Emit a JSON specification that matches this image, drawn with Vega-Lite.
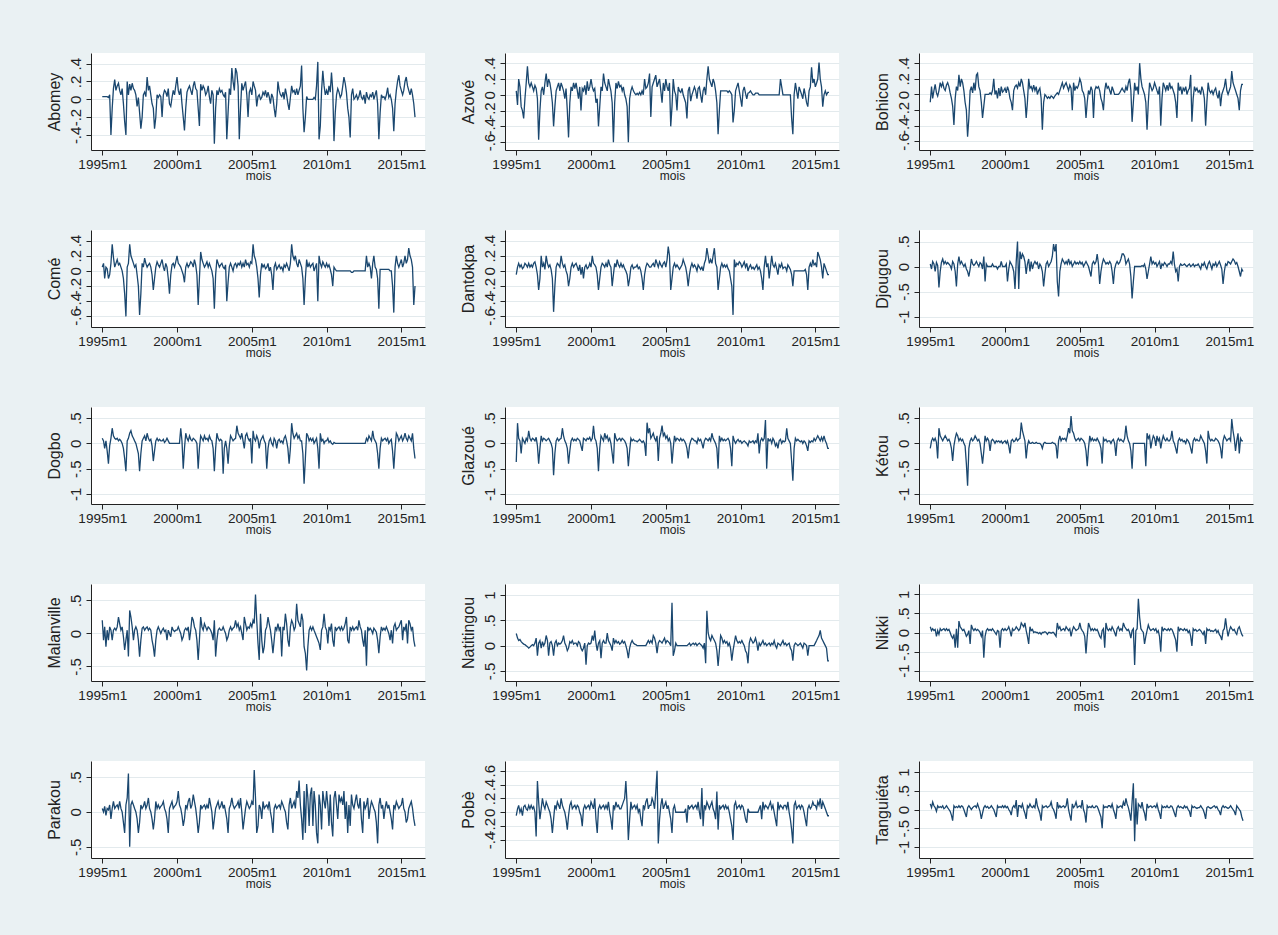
{
"$schema":"https://vega.github.io/schema/vega-lite/v6.json",
"background":"#EAF1F3",
"padding":{"left":46,"top":53,"right":24,"bottom":47},
"data":{"format":{"parse":{"t":"utc:'%Y-%m'"}},"values":[
{"t":"1995-01","ab":0.03,"az":0.05,"bo":-0.10,"co":0.05,"da":-0.05,"dj":0.05,"dg":0.10,"gl":-0.37,"ke":-0.10,"ma":0.20,"na":0.24,"ni":0.15,"pa":0.05,"po":-0.05,"ta":0.15},
{"t":"1995-02","ab":0.03,"az":-0.13,"bo":0.10,"co":0.10,"da":0.05,"dj":-0.05,"dg":0.05,"gl":0.40,"ke":0.05,"ma":-0.10,"na":0.15,"ni":0.05,"pa":0.00,"po":0.05,"ta":0.05},
{"t":"1995-03","ab":0.03,"az":0.20,"bo":-0.05,"co":-0.10,"da":0.10,"dj":0.10,"dg":-0.10,"gl":0.10,"ke":0.10,"ma":0.10,"na":0.10,"ni":0.10,"pa":0.08,"po":0.10,"ta":0.20},
{"t":"1995-04","ab":0.03,"az":0.10,"bo":0.05,"co":0.05,"da":0.05,"dj":0.05,"dg":0.05,"gl":0.05,"ke":0.05,"ma":-0.20,"na":0.12,"ni":0.05,"pa":-0.05,"po":0.00,"ta":0.10},
{"t":"1995-05","ab":0.03,"az":-0.15,"bo":0.13,"co":0.03,"da":0.08,"dj":-0.10,"dg":-0.15,"gl":-0.20,"ke":0.10,"ma":0.05,"na":0.08,"ni":0.08,"pa":0.05,"po":0.05,"ta":0.05},
{"t":"1995-06","ab":0.02,"az":-0.20,"bo":0.02,"co":-0.10,"da":0.03,"dj":0.08,"dg":-0.40,"gl":0.10,"ke":0.02,"ma":-0.10,"na":0.05,"ni":-0.10,"pa":0.03,"po":-0.05,"ta":-0.05},
{"t":"1995-07","ab":0.05,"az":-0.30,"bo":-0.02,"co":-0.05,"da":0.05,"dj":0.02,"dg":-0.05,"gl":0.05,"ke":-0.30,"ma":0.10,"na":0.03,"ni":0.05,"pa":0.10,"po":0.08,"ta":0.10},
{"t":"1995-08","ab":-0.40,"az":-0.05,"bo":0.05,"co":0.10,"da":0.10,"dj":-0.42,"dg":0.10,"gl":0.00,"ke":0.30,"ma":0.05,"na":0.02,"ni":-0.05,"pa":-0.10,"po":0.10,"ta":0.05},
{"t":"1995-09","ab":-0.10,"az":0.15,"bo":0.15,"co":0.35,"da":0.08,"dj":-0.10,"dg":0.30,"gl":0.10,"ke":0.15,"ma":-0.10,"na":0.00,"ni":0.10,"pa":0.05,"po":0.05,"ta":0.08},
{"t":"1995-10","ab":0.12,"az":0.36,"bo":0.10,"co":0.18,"da":0.05,"dj":0.08,"dg":0.15,"gl":0.05,"ke":0.10,"ma":0.05,"na":-0.02,"ni":0.05,"pa":0.15,"po":0.03,"ta":0.05},
{"t":"1995-11","ab":0.22,"az":0.15,"bo":0.15,"co":0.05,"da":0.10,"dj":0.15,"dg":0.10,"gl":0.25,"ke":0.05,"ma":0.08,"na":-0.05,"ni":0.08,"pa":0.05,"po":0.10,"ta":0.10},
{"t":"1995-12","ab":0.10,"az":0.10,"bo":0.08,"co":0.10,"da":0.05,"dj":0.05,"dg":0.08,"gl":0.10,"ke":0.10,"ma":0.05,"na":-0.03,"ni":0.10,"pa":0.08,"po":0.05,"ta":0.02},
{"t":"1996-01","ab":0.15,"az":0.15,"bo":0.05,"co":0.15,"da":0.08,"dj":0.10,"dg":0.10,"gl":0.05,"ke":0.15,"ma":0.10,"na":0.00,"ni":0.05,"pa":0.10,"po":0.10,"ta":0.05},
{"t":"1996-02","ab":0.18,"az":0.10,"bo":0.12,"co":0.08,"da":0.05,"dj":0.05,"dg":0.05,"gl":0.10,"ke":0.10,"ma":0.25,"na":0.02,"ni":0.10,"pa":0.05,"po":0.05,"ta":0.10},
{"t":"1996-03","ab":0.10,"az":0.05,"bo":0.15,"co":0.10,"da":0.10,"dj":0.08,"dg":0.08,"gl":0.08,"ke":0.05,"ma":0.15,"na":0.00,"ni":0.05,"pa":0.15,"po":0.08,"ta":0.05},
{"t":"1996-04","ab":0.05,"az":0.12,"bo":0.10,"co":0.05,"da":0.12,"dj":0.05,"dg":0.05,"gl":0.05,"ke":0.08,"ma":0.05,"na":0.05,"ni":0.08,"pa":0.05,"po":0.00,"ta":0.00},
{"t":"1996-05","ab":0.12,"az":0.08,"bo":0.02,"co":0.00,"da":0.05,"dj":0.02,"dg":0.00,"gl":0.12,"ke":0.02,"ma":0.10,"na":0.15,"ni":0.00,"pa":0.00,"po":-0.35,"ta":-0.05},
{"t":"1996-06","ab":-0.05,"az":-0.05,"bo":-0.05,"co":-0.10,"da":-0.05,"dj":-0.05,"dg":-0.10,"gl":-0.05,"ke":-0.10,"ma":-0.05,"na":-0.20,"ni":-0.10,"pa":-0.15,"po":0.45,"ta":-0.15},
{"t":"1996-07","ab":-0.25,"az":-0.57,"bo":-0.15,"co":-0.30,"da":-0.25,"dj":0.10,"dg":-0.30,"gl":-0.40,"ke":-0.35,"ma":-0.25,"na":0.05,"ni":-0.15,"pa":-0.30,"po":0.15,"ta":-0.30},
{"t":"1996-08","ab":-0.40,"az":-0.20,"bo":-0.39,"co":-0.60,"da":-0.10,"dj":0.05,"dg":-0.55,"gl":-0.10,"ke":-0.05,"ma":-0.10,"na":0.10,"ni":-0.05,"pa":0.10,"po":-0.10,"ta":0.10},
{"t":"1996-09","ab":0.20,"az":0.05,"bo":-0.05,"co":0.05,"da":0.20,"dj":-0.10,"dg":0.05,"gl":0.15,"ke":0.10,"ma":0.05,"na":-0.05,"ni":-0.40,"pa":0.20,"po":0.05,"ta":0.05},
{"t":"1996-10","ab":0.05,"az":0.10,"bo":0.10,"co":0.10,"da":0.05,"dj":-0.40,"dg":0.10,"gl":0.05,"ke":0.20,"ma":-0.35,"na":0.08,"ni":0.10,"pa":0.55,"po":0.20,"ta":0.08},
{"t":"1996-11","ab":0.17,"az":0.00,"bo":0.05,"co":0.35,"da":0.10,"dj":0.05,"dg":0.20,"gl":0.10,"ke":0.15,"ma":0.35,"na":0.00,"ni":-0.40,"pa":-0.50,"po":0.10,"ta":0.05},
{"t":"1996-12","ab":0.10,"az":0.15,"bo":0.25,"co":0.20,"da":0.02,"dj":0.20,"dg":0.25,"gl":0.08,"ke":0.05,"ma":0.25,"na":0.05,"ni":0.30,"pa":0.10,"po":0.05,"ta":0.10},
{"t":"1997-01","ab":0.18,"az":0.27,"bo":0.10,"co":0.15,"da":0.20,"dj":0.05,"dg":0.15,"gl":0.05,"ke":0.10,"ma":0.10,"na":0.20,"ni":0.15,"pa":0.15,"po":0.15,"ta":0.05},
{"t":"1997-02","ab":0.12,"az":0.10,"bo":0.20,"co":0.10,"da":0.10,"dj":0.10,"dg":0.10,"gl":0.08,"ke":0.05,"ma":-0.10,"na":0.10,"ni":0.10,"pa":0.10,"po":0.10,"ta":0.10},
{"t":"1997-03","ab":0.10,"az":0.20,"bo":0.15,"co":0.05,"da":0.05,"dj":0.05,"dg":0.05,"gl":0.10,"ke":0.08,"ma":0.05,"na":-0.20,"ni":0.05,"pa":0.05,"po":0.05,"ta":0.08},
{"t":"1997-04","ab":0.05,"az":0.15,"bo":0.05,"co":0.08,"da":0.08,"dj":0.00,"dg":0.00,"gl":0.05,"ke":0.00,"ma":0.10,"na":0.05,"ni":0.08,"pa":0.00,"po":0.00,"ta":0.00},
{"t":"1997-05","ab":-0.08,"az":0.05,"bo":-0.10,"co":-0.05,"da":0.02,"dj":0.05,"dg":-0.10,"gl":0.00,"ke":-0.05,"ma":0.05,"na":0.08,"ni":0.00,"pa":-0.10,"po":-0.10,"ta":-0.10},
{"t":"1997-06","ab":0.02,"az":-0.10,"bo":-0.20,"co":-0.20,"da":-0.10,"dj":-0.05,"dg":-0.20,"gl":-0.10,"ke":-0.40,"ma":-0.10,"na":0.00,"ni":-0.10,"pa":-0.30,"po":-0.30,"ta":-0.20},
{"t":"1997-07","ab":-0.15,"az":-0.40,"bo":-0.54,"co":-0.58,"da":-0.54,"dj":-0.10,"dg":-0.55,"gl":-0.63,"ke":-0.84,"ma":-0.35,"na":-0.20,"ni":-0.05,"pa":-0.15,"po":-0.10,"ta":0.05},
{"t":"1997-08","ab":-0.33,"az":-0.15,"bo":-0.30,"co":-0.30,"da":-0.20,"dj":-0.20,"dg":-0.20,"gl":-0.20,"ke":-0.10,"ma":-0.10,"na":0.05,"ni":0.05,"pa":0.10,"po":0.10,"ta":0.10},
{"t":"1997-09","ab":-0.20,"az":0.05,"bo":0.05,"co":0.10,"da":0.05,"dj":-0.05,"dg":0.05,"gl":0.05,"ke":0.05,"ma":0.08,"na":0.10,"ni":-0.30,"pa":0.05,"po":0.05,"ta":0.05},
{"t":"1997-10","ab":0.05,"az":0.10,"bo":0.10,"co":0.05,"da":0.10,"dj":0.15,"dg":0.10,"gl":0.10,"ke":0.10,"ma":0.10,"na":0.00,"ni":0.20,"pa":0.08,"po":0.15,"ta":0.00},
{"t":"1997-11","ab":0.08,"az":0.15,"bo":0.02,"co":0.17,"da":0.08,"dj":0.05,"dg":0.15,"gl":0.05,"ke":0.05,"ma":0.05,"na":0.05,"ni":0.10,"pa":0.15,"po":0.10,"ta":0.05},
{"t":"1997-12","ab":0.03,"az":0.05,"bo":0.15,"co":0.10,"da":0.05,"dj":0.02,"dg":0.05,"gl":0.08,"ke":0.08,"ma":0.08,"na":0.03,"ni":0.05,"pa":0.05,"po":0.05,"ta":0.08},
{"t":"1998-01","ab":0.25,"az":0.15,"bo":0.05,"co":0.05,"da":0.20,"dj":0.05,"dg":0.20,"gl":0.10,"ke":0.15,"ma":0.10,"na":0.05,"ni":0.10,"pa":0.10,"po":0.20,"ta":0.10},
{"t":"1998-02","ab":0.10,"az":0.10,"bo":0.25,"co":0.08,"da":0.10,"dj":0.10,"dg":0.10,"gl":0.30,"ke":0.10,"ma":0.05,"na":0.10,"ni":0.05,"pa":0.20,"po":0.10,"ta":0.05},
{"t":"1998-03","ab":0.15,"az":0.05,"bo":0.27,"co":0.10,"da":0.05,"dj":0.05,"dg":0.05,"gl":0.15,"ke":0.05,"ma":0.08,"na":0.20,"ni":0.08,"pa":0.05,"po":0.05,"ta":0.15},
{"t":"1998-04","ab":0.05,"az":-0.05,"bo":0.10,"co":0.05,"da":0.08,"dj":0.00,"dg":0.08,"gl":0.05,"ke":0.08,"ma":0.05,"na":0.05,"ni":0.05,"pa":0.00,"po":0.00,"ta":0.05},
{"t":"1998-05","ab":-0.05,"az":0.08,"bo":0.05,"co":-0.05,"da":0.00,"dj":0.08,"dg":-0.05,"gl":0.00,"ke":0.00,"ma":-0.10,"na":0.00,"ni":0.00,"pa":-0.10,"po":-0.10,"ta":-0.05},
{"t":"1998-06","ab":-0.10,"az":-0.20,"bo":-0.10,"co":-0.25,"da":-0.05,"dj":0.05,"dg":-0.35,"gl":-0.10,"ke":-0.20,"ma":-0.20,"na":-0.10,"ni":-0.10,"pa":-0.25,"po":-0.25,"ta":-0.25},
{"t":"1998-07","ab":-0.33,"az":-0.54,"bo":-0.30,"co":-0.10,"da":-0.20,"dj":-0.05,"dg":-0.15,"gl":-0.40,"ke":-0.40,"ma":-0.35,"na":-0.05,"ni":0.05,"pa":-0.10,"po":-0.05,"ta":-0.10},
{"t":"1998-08","ab":-0.20,"az":-0.10,"bo":-0.15,"co":0.05,"da":-0.10,"dj":0.20,"dg":0.05,"gl":-0.15,"ke":-0.15,"ma":-0.10,"na":0.08,"ni":-0.66,"pa":0.15,"po":0.10,"ta":0.05},
{"t":"1998-09","ab":0.05,"az":0.10,"bo":0.00,"co":0.12,"da":0.05,"dj":-0.30,"dg":0.10,"gl":0.05,"ke":0.15,"ma":0.05,"na":0.05,"ni":-0.10,"pa":0.05,"po":0.15,"ta":0.10},
{"t":"1998-10","ab":0.02,"az":0.05,"bo":0.00,"co":0.08,"da":0.10,"dj":0.05,"dg":0.05,"gl":0.10,"ke":0.05,"ma":0.10,"na":0.10,"ni":0.05,"pa":0.10,"po":0.05,"ta":0.05},
{"t":"1998-11","ab":0.05,"az":0.15,"bo":0.00,"co":0.05,"da":0.05,"dj":0.00,"dg":0.08,"gl":0.05,"ke":0.10,"ma":0.05,"na":0.03,"ni":0.10,"pa":0.05,"po":0.08,"ta":0.08},
{"t":"1998-12","ab":0.03,"az":0.08,"bo":0.00,"co":0.10,"da":0.08,"dj":0.00,"dg":0.05,"gl":0.08,"ke":0.05,"ma":0.00,"na":0.05,"ni":0.05,"pa":0.08,"po":0.10,"ta":0.03},
{"t":"1999-01","ab":-0.20,"az":0.15,"bo":0.02,"co":0.15,"da":0.10,"dj":0.00,"dg":0.05,"gl":0.05,"ke":-0.15,"ma":0.05,"na":0.05,"ni":0.08,"pa":0.10,"po":0.05,"ta":0.05},
{"t":"1999-02","ab":0.05,"az":0.05,"bo":0.00,"co":0.05,"da":0.05,"dj":0.00,"dg":0.08,"gl":0.10,"ke":0.05,"ma":0.08,"na":0.00,"ni":0.05,"pa":0.15,"po":0.10,"ta":0.10},
{"t":"1999-03","ab":0.10,"az":-0.05,"bo":0.05,"co":0.00,"da":0.00,"dj":0.05,"dg":0.02,"gl":0.08,"ke":0.08,"ma":0.03,"na":0.08,"ni":0.10,"pa":0.05,"po":0.08,"ta":0.05},
{"t":"1999-04","ab":0.08,"az":0.10,"bo":0.20,"co":0.10,"da":0.08,"dj":0.00,"dg":0.05,"gl":0.05,"ke":0.05,"ma":0.05,"na":0.05,"ni":0.05,"pa":0.00,"po":0.00,"ta":0.00},
{"t":"1999-05","ab":0.03,"az":-0.20,"bo":0.00,"co":0.05,"da":-0.05,"dj":0.00,"dg":0.10,"gl":-0.05,"ke":0.00,"ma":-0.10,"na":-0.05,"ni":0.00,"pa":-0.10,"po":-0.05,"ta":-0.10},
{"t":"1999-06","ab":0.12,"az":0.08,"bo":0.05,"co":-0.10,"da":0.05,"dj":0.00,"dg":0.05,"gl":-0.15,"ke":0.05,"ma":0.05,"na":-0.10,"ni":-0.05,"pa":-0.30,"po":-0.20,"ta":-0.20},
{"t":"1999-07","ab":-0.05,"az":0.05,"bo":-0.05,"co":-0.30,"da":-0.10,"dj":-0.05,"dg":0.00,"gl":0.10,"ke":0.03,"ma":0.00,"na":-0.05,"ni":0.05,"pa":0.05,"po":0.05,"ta":0.10},
{"t":"1999-08","ab":-0.08,"az":0.12,"bo":0.08,"co":-0.05,"da":0.05,"dj":0.00,"dg":0.00,"gl":0.08,"ke":0.05,"ma":-0.05,"na":0.05,"ni":0.03,"pa":0.10,"po":0.10,"ta":0.05},
{"t":"1999-09","ab":0.02,"az":0.00,"bo":-0.02,"co":0.08,"da":0.08,"dj":0.00,"dg":0.00,"gl":0.05,"ke":0.02,"ma":0.10,"na":-0.38,"ni":-0.40,"pa":0.15,"po":0.05,"ta":0.08},
{"t":"1999-10","ab":0.10,"az":0.17,"bo":0.10,"co":0.10,"da":0.03,"dj":0.10,"dg":0.00,"gl":0.10,"ke":0.05,"ma":0.05,"na":0.00,"ni":0.05,"pa":0.05,"po":0.08,"ta":0.05},
{"t":"1999-11","ab":0.05,"az":0.05,"bo":0.03,"co":0.05,"da":0.05,"dj":0.00,"dg":0.00,"gl":0.08,"ke":0.00,"ma":0.03,"na":0.05,"ni":0.10,"pa":0.08,"po":0.10,"ta":0.10},
{"t":"1999-12","ab":0.15,"az":0.10,"bo":0.05,"co":0.12,"da":0.10,"dj":0.00,"dg":0.00,"gl":0.12,"ke":0.03,"ma":0.05,"na":0.03,"ni":0.05,"pa":0.10,"po":0.05,"ta":0.05},
{"t":"2000-01","ab":0.25,"az":0.20,"bo":0.08,"co":0.20,"da":0.05,"dj":0.00,"dg":0.00,"gl":0.05,"ke":0.05,"ma":0.05,"na":0.05,"ni":0.10,"pa":0.15,"po":0.15,"ta":0.10},
{"t":"2000-02","ab":0.10,"az":0.10,"bo":0.02,"co":0.10,"da":0.20,"dj":0.05,"dg":0.00,"gl":0.10,"ke":0.00,"ma":0.10,"na":0.20,"ni":0.05,"pa":0.30,"po":0.10,"ta":0.05},
{"t":"2000-03","ab":0.05,"az":0.05,"bo":0.10,"co":0.08,"da":0.10,"dj":-0.30,"dg":0.00,"gl":0.35,"ke":0.05,"ma":0.05,"na":0.10,"ni":0.08,"pa":0.10,"po":0.05,"ta":0.08},
{"t":"2000-04","ab":0.12,"az":0.08,"bo":0.05,"co":0.05,"da":0.08,"dj":-0.05,"dg":0.30,"gl":0.10,"ke":-0.05,"ma":0.00,"na":0.30,"ni":0.15,"pa":0.05,"po":0.20,"ta":0.00},
{"t":"2000-05","ab":-0.05,"az":-0.10,"bo":-0.05,"co":0.00,"da":0.05,"dj":0.10,"dg":0.05,"gl":0.05,"ke":-0.20,"ma":-0.10,"na":0.05,"ni":0.05,"pa":-0.05,"po":-0.10,"ta":-0.05},
{"t":"2000-06","ab":-0.20,"az":-0.05,"bo":-0.10,"co":-0.05,"da":-0.05,"dj":0.05,"dg":-0.50,"gl":-0.10,"ke":0.05,"ma":-0.05,"na":-0.10,"ni":-0.10,"pa":-0.20,"po":-0.30,"ta":-0.15},
{"t":"2000-07","ab":-0.35,"az":-0.40,"bo":-0.20,"co":-0.15,"da":-0.25,"dj":0.00,"dg":-0.10,"gl":-0.55,"ke":0.08,"ma":0.05,"na":0.05,"ni":0.10,"pa":-0.10,"po":0.05,"ta":0.05},
{"t":"2000-08","ab":-0.10,"az":-0.15,"bo":0.05,"co":0.05,"da":-0.10,"dj":-0.10,"dg":0.20,"gl":-0.10,"ke":0.03,"ma":0.08,"na":0.10,"ni":0.05,"pa":0.10,"po":0.10,"ta":0.10},
{"t":"2000-09","ab":0.08,"az":0.10,"bo":0.10,"co":0.10,"da":0.05,"dj":-0.45,"dg":0.10,"gl":0.15,"ke":0.05,"ma":0.05,"na":-0.25,"ni":0.08,"pa":0.05,"po":0.05,"ta":0.05},
{"t":"2000-10","ab":0.12,"az":0.05,"bo":0.12,"co":0.05,"da":0.10,"dj":0.10,"dg":0.05,"gl":0.10,"ke":0.10,"ma":0.10,"na":0.05,"ni":0.15,"pa":0.15,"po":0.08,"ta":0.25},
{"t":"2000-11","ab":0.15,"az":0.27,"bo":0.08,"co":0.08,"da":0.08,"dj":0.50,"dg":0.15,"gl":0.05,"ke":0.05,"ma":-0.10,"na":0.10,"ni":0.10,"pa":0.20,"po":0.10,"ta":-0.20},
{"t":"2000-12","ab":0.10,"az":0.15,"bo":0.15,"co":0.12,"da":0.05,"dj":-0.45,"dg":0.08,"gl":0.20,"ke":0.08,"ma":0.05,"na":0.05,"ni":0.05,"pa":0.05,"po":0.05,"ta":0.10},
{"t":"2001-01","ab":0.05,"az":0.10,"bo":0.10,"co":0.10,"da":0.10,"dj":0.30,"dg":0.05,"gl":0.10,"ke":0.10,"ma":0.25,"na":0.05,"ni":0.10,"pa":0.10,"po":0.10,"ta":0.10},
{"t":"2001-02","ab":0.15,"az":0.05,"bo":0.20,"co":0.05,"da":0.05,"dj":0.15,"dg":0.10,"gl":0.15,"ke":0.41,"ma":0.20,"na":0.25,"ni":0.25,"pa":0.25,"po":0.05,"ta":0.05},
{"t":"2001-03","ab":0.20,"az":0.20,"bo":0.15,"co":0.15,"da":0.15,"dj":0.25,"dg":0.08,"gl":0.05,"ke":0.25,"ma":0.10,"na":0.10,"ni":0.20,"pa":0.15,"po":0.15,"ta":0.15},
{"t":"2001-04","ab":0.12,"az":0.12,"bo":0.05,"co":0.08,"da":0.08,"dj":0.20,"dg":0.05,"gl":0.10,"ke":0.15,"ma":0.05,"na":0.05,"ni":0.15,"pa":0.05,"po":0.00,"ta":0.00},
{"t":"2001-05","ab":0.10,"az":0.05,"bo":-0.05,"co":-0.05,"da":0.05,"dj":0.10,"dg":0.00,"gl":0.00,"ke":0.05,"ma":-0.10,"na":0.00,"ni":0.25,"pa":-0.10,"po":-0.10,"ta":-0.10},
{"t":"2001-06","ab":-0.10,"az":-0.10,"bo":-0.30,"co":-0.45,"da":-0.20,"dj":-0.15,"dg":-0.50,"gl":-0.20,"ke":-0.30,"ma":-0.40,"na":-0.10,"ni":0.05,"pa":-0.30,"po":-0.25,"ta":-0.25},
{"t":"2001-07","ab":-0.30,"az":-0.60,"bo":-0.10,"co":-0.10,"da":-0.05,"dj":0.05,"dg":-0.10,"gl":-0.40,"ke":-0.05,"ma":-0.10,"na":0.15,"ni":-0.10,"pa":-0.15,"po":0.10,"ta":0.10},
{"t":"2001-08","ab":0.17,"az":-0.10,"bo":0.20,"co":0.25,"da":0.10,"dj":0.15,"dg":0.15,"gl":0.20,"ke":0.05,"ma":0.25,"na":0.05,"ni":-0.30,"pa":0.10,"po":0.05,"ta":0.05},
{"t":"2001-09","ab":0.10,"az":0.15,"bo":0.08,"co":0.15,"da":0.05,"dj":-0.10,"dg":0.10,"gl":0.10,"ke":0.00,"ma":0.10,"na":0.10,"ni":0.15,"pa":0.05,"po":0.15,"ta":0.15},
{"t":"2001-10","ab":0.15,"az":0.08,"bo":0.10,"co":0.10,"da":0.15,"dj":0.10,"dg":0.05,"gl":0.05,"ke":0.00,"ma":0.05,"na":0.05,"ni":0.05,"pa":0.08,"po":0.08,"ta":0.08},
{"t":"2001-11","ab":0.12,"az":0.17,"bo":0.05,"co":0.05,"da":0.08,"dj":-0.05,"dg":0.15,"gl":0.08,"ke":0.02,"ma":0.15,"na":0.08,"ni":0.08,"pa":0.10,"po":0.10,"ta":0.05},
{"t":"2001-12","ab":0.05,"az":0.10,"bo":0.12,"co":0.08,"da":0.05,"dj":0.05,"dg":0.08,"gl":0.10,"ke":0.00,"ma":0.10,"na":0.03,"ni":0.00,"pa":0.05,"po":0.05,"ta":0.10},
{"t":"2002-01","ab":0.08,"az":0.12,"bo":0.05,"co":0.12,"da":0.10,"dj":0.10,"dg":0.10,"gl":0.05,"ke":0.00,"ma":0.05,"na":0.05,"ni":0.02,"pa":0.10,"po":0.05,"ta":0.05},
{"t":"2002-02","ab":0.15,"az":0.05,"bo":0.10,"co":0.05,"da":0.05,"dj":0.05,"dg":0.05,"gl":0.10,"ke":0.02,"ma":0.10,"na":0.10,"ni":0.00,"pa":0.05,"po":0.10,"ta":0.30},
{"t":"2002-03","ab":0.03,"az":0.10,"bo":0.00,"co":0.10,"da":0.08,"dj":0.08,"dg":0.15,"gl":0.08,"ke":0.00,"ma":0.08,"na":0.05,"ni":0.00,"pa":0.20,"po":0.15,"ta":0.10},
{"t":"2002-04","ab":-0.05,"az":0.00,"bo":0.05,"co":0.05,"da":0.03,"dj":-0.05,"dg":0.08,"gl":0.05,"ke":0.00,"ma":0.05,"na":0.08,"ni":-0.03,"pa":0.10,"po":0.20,"ta":0.00},
{"t":"2002-05","ab":0.10,"az":-0.05,"bo":0.08,"co":0.00,"da":0.00,"dj":0.05,"dg":0.05,"gl":0.00,"ke":0.00,"ma":0.00,"na":0.00,"ni":0.00,"pa":0.00,"po":0.45,"ta":-0.10},
{"t":"2002-06","ab":0.05,"az":-0.15,"bo":-0.05,"co":-0.10,"da":-0.05,"dj":0.00,"dg":-0.10,"gl":-0.10,"ke":-0.03,"ma":-0.10,"na":-0.10,"ni":-0.05,"pa":-0.25,"po":0.10,"ta":-0.30},
{"t":"2002-07","ab":-0.50,"az":-0.60,"bo":-0.45,"co":-0.50,"da":-0.20,"dj":-0.10,"dg":-0.55,"gl":-0.45,"ke":-0.10,"ma":0.20,"na":-0.25,"ni":0.00,"pa":-0.10,"po":-0.40,"ta":0.10},
{"t":"2002-08","ab":-0.10,"az":-0.05,"bo":-0.10,"co":-0.05,"da":-0.10,"dj":-0.40,"dg":-0.10,"gl":-0.15,"ke":0.00,"ma":-0.35,"na":-0.05,"ni":0.00,"pa":0.05,"po":-0.10,"ta":0.05},
{"t":"2002-09","ab":0.10,"az":0.05,"bo":0.00,"co":0.15,"da":0.05,"dj":-0.15,"dg":0.20,"gl":0.10,"ke":0.02,"ma":-0.10,"na":0.05,"ni":0.02,"pa":0.10,"po":0.15,"ta":0.08},
{"t":"2002-10","ab":0.05,"az":0.10,"bo":-0.02,"co":0.10,"da":0.08,"dj":0.05,"dg":0.10,"gl":0.05,"ke":0.00,"ma":0.05,"na":0.10,"ni":0.00,"pa":0.15,"po":0.05,"ta":0.10},
{"t":"2002-11","ab":0.12,"az":0.05,"bo":-0.05,"co":0.05,"da":0.03,"dj":0.10,"dg":0.05,"gl":0.08,"ke":0.00,"ma":0.08,"na":0.05,"ni":-0.05,"pa":0.05,"po":0.08,"ta":0.05},
{"t":"2002-12","ab":0.08,"az":0.02,"bo":-0.03,"co":0.08,"da":0.05,"dj":0.00,"dg":0.08,"gl":0.05,"ke":0.00,"ma":0.05,"na":0.03,"ni":0.00,"pa":0.08,"po":0.10,"ta":0.08},
{"t":"2003-01","ab":0.10,"az":0.00,"bo":-0.05,"co":0.10,"da":0.05,"dj":0.05,"dg":0.05,"gl":0.05,"ke":0.00,"ma":0.05,"na":0.02,"ni":0.00,"pa":0.15,"po":0.05,"ta":0.10},
{"t":"2003-02","ab":0.05,"az":0.02,"bo":-0.02,"co":0.05,"da":0.08,"dj":0.10,"dg":-0.60,"gl":0.03,"ke":0.00,"ma":0.10,"na":0.00,"ni":-0.02,"pa":0.05,"po":0.10,"ta":0.20},
{"t":"2003-03","ab":0.03,"az":0.00,"bo":-0.03,"co":0.03,"da":0.03,"dj":0.20,"dg":-0.10,"gl":0.05,"ke":0.02,"ma":0.05,"na":0.00,"ni":0.00,"pa":0.10,"po":0.00,"ta":0.05},
{"t":"2003-04","ab":0.08,"az":0.03,"bo":-0.05,"co":0.08,"da":0.05,"dj":0.45,"dg":0.05,"gl":0.08,"ke":0.00,"ma":0.00,"na":0.00,"ni":0.00,"pa":0.00,"po":0.05,"ta":0.00},
{"t":"2003-05","ab":-0.45,"az":0.00,"bo":-0.02,"co":-0.40,"da":0.00,"dj":0.30,"dg":-0.10,"gl":0.05,"ke":0.00,"ma":-0.10,"na":0.00,"ni":-0.05,"pa":-0.10,"po":-0.10,"ta":-0.10},
{"t":"2003-06","ab":-0.15,"az":0.05,"bo":0.00,"co":-0.15,"da":-0.10,"dj":0.45,"dg":-0.40,"gl":0.02,"ke":-0.05,"ma":-0.05,"na":0.00,"ni":-0.10,"pa":-0.30,"po":-0.20,"ta":-0.25},
{"t":"2003-07","ab":0.12,"az":0.00,"bo":0.02,"co":0.05,"da":-0.25,"dj":-0.30,"dg":-0.05,"gl":0.05,"ke":-0.30,"ma":0.05,"na":0.00,"ni":0.25,"pa":0.05,"po":0.10,"ta":0.20},
{"t":"2003-08","ab":0.05,"az":0.20,"bo":0.00,"co":0.10,"da":-0.05,"dj":-0.60,"dg":0.15,"gl":0.00,"ke":0.05,"ma":0.10,"na":0.00,"ni":0.10,"pa":0.10,"po":0.05,"ta":0.05},
{"t":"2003-09","ab":0.35,"az":0.08,"bo":0.05,"co":0.05,"da":0.05,"dj":-0.10,"dg":0.10,"gl":-0.25,"ke":0.15,"ma":0.05,"na":0.00,"ni":0.15,"pa":0.20,"po":0.15,"ta":0.10},
{"t":"2003-10","ab":0.20,"az":0.10,"bo":0.10,"co":0.00,"da":0.10,"dj":0.05,"dg":0.05,"gl":0.41,"ke":0.05,"ma":0.08,"na":0.05,"ni":0.05,"pa":0.10,"po":0.20,"ta":0.05},
{"t":"2003-11","ab":0.10,"az":0.15,"bo":0.15,"co":0.08,"da":0.08,"dj":0.15,"dg":0.08,"gl":0.20,"ke":0.10,"ma":0.10,"na":0.10,"ni":0.08,"pa":0.05,"po":0.05,"ta":0.08},
{"t":"2003-12","ab":0.35,"az":0.27,"bo":0.08,"co":0.10,"da":0.05,"dj":0.10,"dg":0.10,"gl":0.30,"ke":0.08,"ma":0.20,"na":0.05,"ni":0.10,"pa":0.08,"po":0.10,"ta":0.10},
{"t":"2004-01","ab":0.30,"az":-0.28,"bo":0.12,"co":0.05,"da":0.05,"dj":0.05,"dg":0.35,"gl":0.10,"ke":0.10,"ma":0.10,"na":0.10,"ni":0.05,"pa":0.10,"po":0.10,"ta":0.05},
{"t":"2004-02","ab":0.15,"az":0.10,"bo":0.15,"co":0.10,"da":0.08,"dj":0.10,"dg":0.20,"gl":0.15,"ke":0.05,"ma":0.15,"na":0.05,"ni":0.15,"pa":0.15,"po":0.20,"ta":0.10},
{"t":"2004-03","ab":-0.45,"az":0.15,"bo":0.10,"co":0.08,"da":0.10,"dj":0.05,"dg":0.15,"gl":0.20,"ke":0.15,"ma":0.05,"na":0.20,"ni":0.10,"pa":0.05,"po":0.15,"ta":0.30},
{"t":"2004-04","ab":-0.10,"az":0.20,"bo":0.05,"co":0.12,"da":0.05,"dj":0.15,"dg":0.10,"gl":0.10,"ke":0.30,"ma":0.10,"na":0.15,"ni":0.05,"pa":0.20,"po":0.05,"ta":0.00},
{"t":"2004-05","ab":0.18,"az":0.25,"bo":0.12,"co":0.05,"da":0.15,"dj":0.05,"dg":0.20,"gl":0.05,"ke":0.20,"ma":0.00,"na":0.05,"ni":0.10,"pa":0.00,"po":0.30,"ta":-0.15},
{"t":"2004-06","ab":0.10,"az":0.10,"bo":0.08,"co":0.10,"da":0.10,"dj":0.10,"dg":0.05,"gl":0.15,"ke":0.54,"ma":-0.10,"na":-0.15,"ni":-0.10,"pa":-0.25,"po":0.60,"ta":-0.30},
{"t":"2004-07","ab":0.15,"az":0.15,"bo":-0.20,"co":0.05,"da":0.05,"dj":0.00,"dg":-0.10,"gl":-0.35,"ke":0.25,"ma":0.25,"na":0.05,"ni":0.05,"pa":-0.10,"po":-0.45,"ta":0.15},
{"t":"2004-08","ab":0.20,"az":0.20,"bo":0.15,"co":0.15,"da":0.12,"dj":0.05,"dg":0.15,"gl":0.10,"ke":0.20,"ma":0.15,"na":0.10,"ni":0.15,"pa":0.05,"po":-0.10,"ta":0.05},
{"t":"2004-09","ab":0.05,"az":0.05,"bo":0.05,"co":0.08,"da":0.08,"dj":0.10,"dg":0.20,"gl":0.20,"ke":0.10,"ma":0.05,"na":0.08,"ni":0.10,"pa":0.15,"po":0.10,"ta":0.10},
{"t":"2004-10","ab":-0.20,"az":-0.10,"bo":0.10,"co":0.10,"da":0.05,"dj":0.05,"dg":0.10,"gl":0.35,"ke":0.05,"ma":0.10,"na":0.05,"ni":0.05,"pa":0.10,"po":0.20,"ta":0.20},
{"t":"2004-11","ab":0.08,"az":0.15,"bo":0.08,"co":0.05,"da":0.10,"dj":0.08,"dg":0.05,"gl":0.15,"ke":0.08,"ma":0.08,"na":0.10,"ni":0.08,"pa":0.05,"po":0.05,"ta":0.05},
{"t":"2004-12","ab":0.12,"az":0.05,"bo":0.12,"co":0.12,"da":0.12,"dj":0.05,"dg":0.10,"gl":0.20,"ke":0.10,"ma":0.15,"na":0.15,"ni":0.10,"pa":0.08,"po":0.10,"ta":0.08},
{"t":"2005-01","ab":0.05,"az":0.20,"bo":0.20,"co":0.10,"da":0.05,"dj":0.10,"dg":-0.40,"gl":0.10,"ke":0.05,"ma":0.10,"na":0.05,"ni":0.25,"pa":0.15,"po":0.15,"ta":0.10},
{"t":"2005-02","ab":0.20,"az":0.10,"bo":0.15,"co":0.35,"da":0.15,"dj":0.05,"dg":0.25,"gl":0.15,"ke":0.10,"ma":0.20,"na":0.10,"ni":0.10,"pa":0.10,"po":0.05,"ta":0.05},
{"t":"2005-03","ab":0.15,"az":0.05,"bo":0.05,"co":0.20,"da":0.32,"dj":0.08,"dg":0.10,"gl":0.05,"ke":0.08,"ma":0.15,"na":0.08,"ni":0.05,"pa":0.60,"po":0.10,"ta":0.25},
{"t":"2005-04","ab":0.10,"az":0.15,"bo":0.02,"co":0.15,"da":0.20,"dj":0.00,"dg":0.05,"gl":0.10,"ke":0.05,"ma":0.59,"na":0.05,"ni":0.00,"pa":0.20,"po":0.00,"ta":0.00},
{"t":"2005-05","ab":-0.08,"az":-0.40,"bo":-0.05,"co":0.05,"da":-0.25,"dj":0.05,"dg":0.15,"gl":0.00,"ke":0.00,"ma":0.20,"na":0.00,"ni":-0.10,"pa":-0.30,"po":-0.10,"ta":-0.10},
{"t":"2005-06","ab":0.03,"az":-0.15,"bo":-0.30,"co":-0.10,"da":-0.10,"dj":0.10,"dg":0.08,"gl":-0.40,"ke":-0.15,"ma":-0.15,"na":0.85,"ni":-0.55,"pa":-0.20,"po":-0.30,"ta":-0.35},
{"t":"2005-07","ab":0.05,"az":0.20,"bo":-0.10,"co":-0.35,"da":0.05,"dj":0.05,"dg":-0.10,"gl":-0.10,"ke":-0.45,"ma":-0.40,"na":-0.20,"ni":-0.10,"pa":0.10,"po":0.05,"ta":0.10},
{"t":"2005-08","ab":0.00,"az":0.05,"bo":0.05,"co":-0.05,"da":0.10,"dj":0.00,"dg":0.05,"gl":0.15,"ke":-0.10,"ma":0.30,"na":-0.10,"ni":0.25,"pa":0.05,"po":0.10,"ta":0.05},
{"t":"2005-09","ab":0.02,"az":0.00,"bo":0.00,"co":0.10,"da":0.05,"dj":-0.10,"dg":0.10,"gl":0.05,"ke":0.15,"ma":-0.10,"na":0.05,"ni":0.15,"pa":-0.10,"po":0.00,"ta":0.08},
{"t":"2005-10","ab":0.08,"az":-0.20,"bo":0.10,"co":0.05,"da":0.08,"dj":-0.20,"dg":0.15,"gl":0.10,"ke":0.05,"ma":-0.30,"na":0.00,"ni":0.05,"pa":0.15,"po":0.00,"ta":0.05},
{"t":"2005-11","ab":0.05,"az":0.10,"bo":0.05,"co":0.08,"da":0.05,"dj":0.05,"dg":0.05,"gl":0.08,"ke":0.10,"ma":-0.20,"na":0.00,"ni":0.10,"pa":0.05,"po":0.00,"ta":0.10},
{"t":"2005-12","ab":0.10,"az":0.05,"bo":-0.30,"co":0.03,"da":0.02,"dj":0.10,"dg":0.00,"gl":0.05,"ke":0.05,"ma":0.05,"na":0.00,"ni":0.05,"pa":0.08,"po":0.00,"ta":0.05},
{"t":"2006-01","ab":0.02,"az":0.03,"bo":0.05,"co":0.05,"da":0.05,"dj":0.05,"dg":-0.50,"gl":0.10,"ke":0.08,"ma":0.10,"na":0.00,"ni":0.10,"pa":0.10,"po":0.00,"ta":0.05},
{"t":"2006-02","ab":0.08,"az":0.08,"bo":0.10,"co":0.10,"da":0.08,"dj":0.10,"dg":-0.10,"gl":0.05,"ke":0.05,"ma":0.25,"na":0.00,"ni":0.05,"pa":0.05,"po":0.00,"ta":0.10},
{"t":"2006-03","ab":0.03,"az":0.00,"bo":0.08,"co":0.00,"da":0.15,"dj":0.25,"dg":0.05,"gl":0.08,"ke":0.10,"ma":0.15,"na":0.00,"ni":0.08,"pa":0.15,"po":0.00,"ta":0.08},
{"t":"2006-04","ab":-0.05,"az":-0.05,"bo":0.10,"co":0.05,"da":0.10,"dj":0.05,"dg":0.10,"gl":0.05,"ke":0.05,"ma":0.05,"na":0.00,"ni":0.00,"pa":0.00,"po":0.00,"ta":0.00},
{"t":"2006-05","ab":0.06,"az":-0.10,"bo":0.05,"co":-0.05,"da":0.05,"dj":-0.35,"dg":0.00,"gl":0.00,"ke":0.00,"ma":-0.10,"na":0.00,"ni":-0.10,"pa":-0.10,"po":0.05,"ta":-0.10},
{"t":"2006-06","ab":0.02,"az":-0.30,"bo":-0.05,"co":-0.25,"da":-0.05,"dj":-0.10,"dg":-0.05,"gl":-0.10,"ke":-0.10,"ma":-0.30,"na":0.00,"ni":-0.15,"pa":-0.30,"po":-0.15,"ta":-0.20},
{"t":"2006-07","ab":-0.10,"az":0.05,"bo":-0.10,"co":0.05,"da":-0.20,"dj":0.05,"dg":0.10,"gl":-0.30,"ke":-0.40,"ma":-0.10,"na":0.02,"ni":0.05,"pa":0.05,"po":0.10,"ta":-0.50},
{"t":"2006-08","ab":-0.20,"az":0.10,"bo":-0.20,"co":0.10,"da":-0.05,"dj":0.15,"dg":0.05,"gl":-0.05,"ke":0.10,"ma":0.10,"na":0.05,"ni":0.10,"pa":0.10,"po":0.05,"ta":0.10},
{"t":"2006-09","ab":-0.05,"az":-0.08,"bo":0.05,"co":0.02,"da":0.05,"dj":0.10,"dg":-0.10,"gl":0.05,"ke":0.05,"ma":0.05,"na":0.00,"ni":-0.40,"pa":0.05,"po":0.08,"ta":0.05},
{"t":"2006-10","ab":0.20,"az":0.00,"bo":0.15,"co":0.05,"da":0.10,"dj":0.05,"dg":0.05,"gl":0.10,"ke":0.08,"ma":0.15,"na":0.03,"ni":0.25,"pa":0.08,"po":0.10,"ta":0.08},
{"t":"2006-11","ab":0.10,"az":0.05,"bo":0.08,"co":0.08,"da":0.05,"dj":0.08,"dg":0.08,"gl":0.08,"ke":0.03,"ma":0.05,"na":0.05,"ni":0.10,"pa":0.10,"po":0.05,"ta":0.05},
{"t":"2006-12","ab":0.05,"az":0.10,"bo":0.10,"co":0.03,"da":0.08,"dj":0.05,"dg":0.02,"gl":0.05,"ke":0.05,"ma":0.10,"na":0.02,"ni":0.05,"pa":0.05,"po":0.08,"ta":0.10},
{"t":"2007-01","ab":0.03,"az":0.05,"bo":0.05,"co":0.05,"da":0.05,"dj":0.10,"dg":0.05,"gl":0.05,"ke":0.05,"ma":-0.35,"na":0.05,"ni":0.10,"pa":0.15,"po":0.10,"ta":0.10},
{"t":"2007-02","ab":0.08,"az":-0.05,"bo":0.00,"co":0.00,"da":0.00,"dj":0.05,"dg":0.00,"gl":0.00,"ke":0.00,"ma":0.10,"na":0.00,"ni":0.05,"pa":0.10,"po":0.05,"ta":0.05},
{"t":"2007-03","ab":0.00,"az":0.08,"bo":0.10,"co":0.08,"da":0.08,"dj":-0.10,"dg":0.10,"gl":0.10,"ke":0.05,"ma":0.05,"na":0.03,"ni":0.15,"pa":0.05,"po":0.15,"ta":0.15},
{"t":"2007-04","ab":0.12,"az":0.10,"bo":0.05,"co":0.05,"da":0.05,"dj":-0.35,"dg":0.15,"gl":0.05,"ke":0.08,"ma":0.30,"na":0.05,"ni":0.08,"pa":0.00,"po":0.00,"ta":0.00},
{"t":"2007-05","ab":0.05,"az":0.00,"bo":0.00,"co":0.10,"da":0.02,"dj":-0.05,"dg":0.05,"gl":0.08,"ke":0.00,"ma":0.15,"na":0.02,"ni":0.00,"pa":-0.15,"po":-0.10,"ta":-0.10},
{"t":"2007-06","ab":-0.05,"az":-0.10,"bo":0.00,"co":0.05,"da":0.05,"dj":0.05,"dg":-0.10,"gl":0.00,"ke":-0.25,"ma":-0.10,"na":0.00,"ni":-0.10,"pa":-0.25,"po":0.35,"ta":-0.25},
{"t":"2007-07","ab":-0.12,"az":0.05,"bo":0.00,"co":0.00,"da":0.00,"dj":0.10,"dg":-0.40,"gl":-0.10,"ke":0.05,"ma":-0.20,"na":-0.05,"ni":0.10,"pa":0.10,"po":-0.20,"ta":0.10},
{"t":"2007-08","ab":0.02,"az":0.10,"bo":0.00,"co":0.10,"da":0.10,"dj":0.05,"dg":-0.10,"gl":0.05,"ke":0.10,"ma":0.10,"na":0.05,"ni":0.15,"pa":0.20,"po":0.10,"ta":0.05},
{"t":"2007-09","ab":0.15,"az":0.00,"bo":0.02,"co":0.35,"da":0.15,"dj":0.08,"dg":0.40,"gl":0.10,"ke":0.05,"ma":0.20,"na":-0.35,"ni":0.05,"pa":0.05,"po":0.05,"ta":0.08},
{"t":"2007-10","ab":0.08,"az":0.20,"bo":0.05,"co":0.20,"da":0.30,"dj":0.15,"dg":0.20,"gl":0.08,"ke":0.08,"ma":0.15,"na":0.69,"ni":0.10,"pa":0.10,"po":0.15,"ta":0.10},
{"t":"2007-11","ab":0.10,"az":0.36,"bo":0.08,"co":0.15,"da":0.20,"dj":0.25,"dg":0.10,"gl":0.05,"ke":0.05,"ma":0.05,"na":0.25,"ni":0.05,"pa":0.15,"po":0.10,"ta":0.05},
{"t":"2007-12","ab":0.05,"az":0.20,"bo":0.05,"co":0.20,"da":0.10,"dj":0.25,"dg":0.15,"gl":0.10,"ke":0.03,"ma":0.10,"na":0.15,"ni":0.25,"pa":0.05,"po":0.05,"ta":0.20},
{"t":"2008-01","ab":0.12,"az":0.15,"bo":0.03,"co":0.10,"da":0.15,"dj":0.20,"dg":0.20,"gl":0.05,"ke":0.10,"ma":0.45,"na":0.10,"ni":0.15,"pa":0.30,"po":0.10,"ta":0.10},
{"t":"2008-02","ab":0.05,"az":0.10,"bo":0.10,"co":0.05,"da":0.10,"dj":0.05,"dg":0.10,"gl":0.20,"ke":0.35,"ma":0.20,"na":0.20,"ni":0.10,"pa":0.20,"po":0.15,"ta":0.30},
{"t":"2008-03","ab":0.10,"az":0.20,"bo":0.05,"co":0.15,"da":0.20,"dj":0.10,"dg":0.15,"gl":0.10,"ke":0.15,"ma":0.15,"na":0.15,"ni":0.05,"pa":0.45,"po":0.05,"ta":0.15},
{"t":"2008-04","ab":0.15,"az":0.15,"bo":0.15,"co":0.10,"da":0.30,"dj":0.15,"dg":0.05,"gl":0.05,"ke":0.05,"ma":0.10,"na":0.10,"ni":0.08,"pa":0.10,"po":0.00,"ta":0.05},
{"t":"2008-05","ab":0.38,"az":0.05,"bo":0.20,"co":0.05,"da":0.10,"dj":0.05,"dg":0.05,"gl":0.00,"ke":0.00,"ma":0.30,"na":0.05,"ni":0.00,"pa":-0.10,"po":-0.10,"ta":-0.10},
{"t":"2008-06","ab":-0.10,"az":-0.10,"bo":0.05,"co":-0.10,"da":0.05,"dj":-0.20,"dg":-0.20,"gl":-0.10,"ke":-0.15,"ma":0.20,"na":-0.10,"ni":-0.15,"pa":-0.40,"po":0.30,"ta":-0.30},
{"t":"2008-07","ab":-0.37,"az":-0.50,"bo":-0.35,"co":-0.45,"da":-0.25,"dj":-0.64,"dg":-0.80,"gl":-0.50,"ke":-0.50,"ma":-0.20,"na":-0.40,"ni":0.05,"pa":0.30,"po":-0.25,"ta":0.20},
{"t":"2008-08","ab":-0.20,"az":-0.20,"bo":-0.10,"co":-0.10,"da":-0.10,"dj":-0.30,"dg":-0.30,"gl":0.15,"ke":0.00,"ma":-0.30,"na":-0.10,"ni":0.10,"pa":-0.30,"po":0.10,"ta":0.70},
{"t":"2008-09","ab":0.03,"az":0.05,"bo":0.15,"co":0.15,"da":0.05,"dj":0.00,"dg":0.20,"gl":0.05,"ke":0.00,"ma":-0.56,"na":0.20,"ni":-0.85,"pa":0.40,"po":0.05,"ta":-0.85},
{"t":"2008-10","ab":0.00,"az":0.05,"bo":0.05,"co":0.05,"da":0.10,"dj":0.00,"dg":0.15,"gl":0.10,"ke":0.00,"ma":-0.20,"na":0.15,"ni":0.05,"pa":0.20,"po":0.08,"ta":0.30},
{"t":"2008-11","ab":0.00,"az":0.05,"bo":0.10,"co":0.10,"da":0.05,"dj":0.00,"dg":0.05,"gl":0.05,"ke":0.00,"ma":0.05,"na":0.05,"ni":0.10,"pa":-0.20,"po":0.10,"ta":-0.40},
{"t":"2008-12","ab":0.00,"az":0.05,"bo":0.00,"co":0.05,"da":0.08,"dj":0.00,"dg":0.10,"gl":0.08,"ke":0.00,"ma":0.10,"na":0.10,"ni":0.88,"pa":0.25,"po":0.05,"ta":0.15},
{"t":"2009-01","ab":0.00,"az":0.05,"bo":0.40,"co":0.08,"da":0.05,"dj":0.00,"dg":0.05,"gl":0.05,"ke":0.00,"ma":0.05,"na":0.05,"ni":0.40,"pa":0.35,"po":0.10,"ta":0.10},
{"t":"2009-02","ab":0.00,"az":0.05,"bo":0.20,"co":0.10,"da":0.08,"dj":0.00,"dg":0.10,"gl":0.08,"ke":0.00,"ma":0.10,"na":0.08,"ni":0.10,"pa":-0.20,"po":0.05,"ta":0.05},
{"t":"2009-03","ab":0.02,"az":0.03,"bo":0.10,"co":0.00,"da":0.03,"dj":0.02,"dg":0.00,"gl":0.10,"ke":0.00,"ma":0.05,"na":0.00,"ni":0.05,"pa":0.30,"po":0.08,"ta":0.20},
{"t":"2009-04","ab":0.00,"az":0.05,"bo":0.05,"co":0.05,"da":0.00,"dj":0.00,"dg":0.05,"gl":0.05,"ke":0.00,"ma":0.00,"na":0.05,"ni":0.00,"pa":0.10,"po":0.00,"ta":0.00},
{"t":"2009-05","ab":0.15,"az":0.03,"bo":0.00,"co":0.10,"da":-0.10,"dj":0.05,"dg":0.10,"gl":-0.10,"ke":0.00,"ma":-0.05,"na":-0.05,"ni":-0.30,"pa":-0.30,"po":-0.10,"ta":-0.10},
{"t":"2009-06","ab":0.42,"az":0.00,"bo":-0.10,"co":-0.40,"da":-0.20,"dj":-0.05,"dg":-0.10,"gl":-0.45,"ke":-0.45,"ma":-0.10,"na":-0.30,"ni":-0.10,"pa":-0.45,"po":-0.20,"ta":-0.30},
{"t":"2009-07","ab":-0.45,"az":-0.35,"bo":-0.45,"co":0.20,"da":-0.58,"dj":-0.25,"dg":-0.50,"gl":0.15,"ke":0.20,"ma":-0.15,"na":-0.10,"ni":0.05,"pa":0.25,"po":-0.40,"ta":0.15},
{"t":"2009-08","ab":-0.30,"az":-0.20,"bo":-0.10,"co":0.10,"da":0.15,"dj":-0.10,"dg":0.20,"gl":0.05,"ke":0.10,"ma":-0.25,"na":0.05,"ni":0.20,"pa":0.10,"po":0.10,"ta":0.05},
{"t":"2009-09","ab":0.10,"az":0.05,"bo":0.15,"co":0.05,"da":0.05,"dj":0.05,"dg":0.05,"gl":0.00,"ke":0.15,"ma":0.05,"na":0.20,"ni":0.10,"pa":-0.25,"po":0.15,"ta":0.08},
{"t":"2009-10","ab":0.32,"az":0.10,"bo":0.10,"co":0.12,"da":0.10,"dj":0.20,"dg":0.08,"gl":0.05,"ke":-0.10,"ma":0.10,"na":0.10,"ni":0.05,"pa":0.30,"po":0.05,"ta":0.10},
{"t":"2009-11","ab":0.15,"az":0.15,"bo":0.05,"co":0.08,"da":0.08,"dj":0.05,"dg":0.00,"gl":0.08,"ke":0.05,"ma":0.30,"na":0.05,"ni":0.08,"pa":0.15,"po":0.08,"ta":0.05},
{"t":"2009-12","ab":0.05,"az":0.05,"bo":0.08,"co":0.05,"da":0.12,"dj":0.10,"dg":0.05,"gl":0.03,"ke":0.15,"ma":0.10,"na":0.08,"ni":0.10,"pa":0.05,"po":0.10,"ta":0.08},
{"t":"2010-01","ab":0.10,"az":-0.05,"bo":0.15,"co":0.10,"da":0.10,"dj":0.05,"dg":0.05,"gl":0.05,"ke":0.10,"ma":0.05,"na":0.05,"ni":0.05,"pa":0.30,"po":0.05,"ta":0.10},
{"t":"2010-02","ab":0.05,"az":-0.15,"bo":0.10,"co":0.05,"da":0.05,"dj":0.08,"dg":0.10,"gl":0.00,"ke":-0.05,"ma":-0.15,"na":0.10,"ni":0.10,"pa":0.10,"po":0.10,"ta":0.05},
{"t":"2010-03","ab":0.15,"az":0.05,"bo":0.05,"co":0.08,"da":0.08,"dj":0.00,"dg":0.02,"gl":0.03,"ke":0.15,"ma":0.10,"na":0.05,"ni":0.00,"pa":-0.20,"po":0.08,"ta":0.15},
{"t":"2010-04","ab":0.08,"az":0.10,"bo":0.00,"co":0.02,"da":0.12,"dj":0.05,"dg":0.05,"gl":0.05,"ke":0.05,"ma":0.05,"na":0.00,"ni":0.05,"pa":0.25,"po":0.00,"ta":0.00},
{"t":"2010-05","ab":0.30,"az":0.02,"bo":0.10,"co":-0.05,"da":0.05,"dj":0.10,"dg":0.00,"gl":0.02,"ke":0.10,"ma":0.15,"na":-0.10,"ni":-0.10,"pa":-0.15,"po":-0.10,"ta":-0.10},
{"t":"2010-06","ab":0.10,"az":-0.05,"bo":-0.40,"co":-0.20,"da":0.10,"dj":-0.05,"dg":-0.02,"gl":0.00,"ke":-0.10,"ma":-0.10,"na":-0.15,"ni":-0.50,"pa":-0.35,"po":-0.15,"ta":-0.25},
{"t":"2010-07","ab":-0.47,"az":0.02,"bo":-0.05,"co":0.05,"da":0.00,"dj":0.05,"dg":0.02,"gl":-0.05,"ke":0.05,"ma":-0.20,"na":-0.35,"ni":0.15,"pa":0.20,"po":0.05,"ta":0.10},
{"t":"2010-08","ab":-0.15,"az":0.03,"bo":0.15,"co":0.02,"da":0.05,"dj":0.02,"dg":0.00,"gl":0.05,"ke":0.15,"ma":0.10,"na":0.05,"ni":0.05,"pa":0.30,"po":0.00,"ta":0.05},
{"t":"2010-09","ab":0.05,"az":0.05,"bo":0.10,"co":0.00,"da":0.08,"dj":0.08,"dg":0.00,"gl":0.02,"ke":0.08,"ma":0.05,"na":0.15,"ni":0.10,"pa":0.10,"po":0.00,"ta":0.08},
{"t":"2010-10","ab":0.12,"az":0.02,"bo":0.05,"co":0.00,"da":0.03,"dj":0.05,"dg":0.00,"gl":0.03,"ke":0.05,"ma":0.08,"na":0.10,"ni":0.08,"pa":-0.10,"po":0.00,"ta":0.05},
{"t":"2010-11","ab":0.08,"az":0.00,"bo":0.12,"co":0.00,"da":0.05,"dj":0.00,"dg":0.00,"gl":0.05,"ke":0.10,"ma":0.10,"na":0.05,"ni":0.05,"pa":0.25,"po":0.00,"ta":0.10},
{"t":"2010-12","ab":0.02,"az":0.00,"bo":0.05,"co":0.00,"da":0.02,"dj":0.05,"dg":0.00,"gl":0.00,"ke":0.05,"ma":0.05,"na":0.08,"ni":0.10,"pa":0.15,"po":0.00,"ta":0.05},
{"t":"2011-01","ab":0.05,"az":0.02,"bo":0.15,"co":0.00,"da":0.05,"dj":0.05,"dg":0.00,"gl":0.05,"ke":0.05,"ma":0.10,"na":0.15,"ni":0.05,"pa":0.20,"po":0.00,"ta":0.05},
{"t":"2011-02","ab":0.15,"az":0.02,"bo":0.08,"co":0.00,"da":0.08,"dj":0.10,"dg":0.00,"gl":0.02,"ke":0.10,"ma":0.05,"na":0.05,"ni":0.10,"pa":0.10,"po":0.00,"ta":0.10},
{"t":"2011-03","ab":0.25,"az":0.02,"bo":0.10,"co":0.00,"da":0.02,"dj":0.05,"dg":0.00,"gl":0.20,"ke":0.25,"ma":0.08,"na":-0.10,"ni":0.08,"pa":0.30,"po":0.00,"ta":0.08},
{"t":"2011-04","ab":0.18,"az":0.00,"bo":0.05,"co":0.00,"da":0.05,"dj":0.30,"dg":0.00,"gl":-0.20,"ke":0.05,"ma":0.15,"na":0.05,"ni":0.00,"pa":-0.10,"po":0.05,"ta":0.00},
{"t":"2011-05","ab":0.08,"az":0.00,"bo":0.00,"co":0.00,"da":0.00,"dj":0.05,"dg":0.00,"gl":0.05,"ke":0.00,"ma":0.25,"na":0.00,"ni":-0.10,"pa":0.15,"po":0.10,"ta":-0.10},
{"t":"2011-06","ab":-0.10,"az":0.00,"bo":-0.10,"co":0.00,"da":-0.10,"dj":-0.10,"dg":0.00,"gl":0.10,"ke":-0.10,"ma":-0.10,"na":0.05,"ni":-0.20,"pa":-0.30,"po":-0.10,"ta":-0.20},
{"t":"2011-07","ab":-0.20,"az":0.00,"bo":-0.30,"co":0.00,"da":-0.25,"dj":-0.05,"dg":0.00,"gl":0.05,"ke":-0.20,"ma":-0.15,"na":0.10,"ni":-0.50,"pa":0.10,"po":0.15,"ta":0.05},
{"t":"2011-08","ab":-0.43,"az":0.00,"bo":0.15,"co":0.00,"da":0.05,"dj":-0.30,"dg":0.00,"gl":0.10,"ke":0.05,"ma":0.10,"na":0.02,"ni":0.15,"pa":-0.20,"po":0.05,"ta":0.10},
{"t":"2011-09","ab":0.05,"az":0.00,"bo":0.05,"co":-0.02,"da":0.20,"dj":0.00,"dg":0.00,"gl":0.46,"ke":0.10,"ma":0.05,"na":0.05,"ni":0.05,"pa":0.25,"po":0.10,"ta":0.05},
{"t":"2011-10","ab":0.12,"az":0.00,"bo":0.10,"co":-0.02,"da":0.05,"dj":0.05,"dg":0.00,"gl":-0.50,"ke":0.05,"ma":0.10,"na":0.00,"ni":0.10,"pa":0.10,"po":0.08,"ta":0.08},
{"t":"2011-11","ab":0.00,"az":0.00,"bo":0.00,"co":0.00,"da":0.10,"dj":0.02,"dg":0.00,"gl":0.10,"ke":0.08,"ma":0.05,"na":0.03,"ni":0.08,"pa":0.05,"po":0.05,"ta":0.05},
{"t":"2011-12","ab":0.02,"az":0.00,"bo":0.08,"co":0.00,"da":-0.10,"dj":0.03,"dg":0.00,"gl":0.05,"ke":0.03,"ma":0.08,"na":0.05,"ni":0.05,"pa":0.15,"po":0.10,"ta":0.03},
{"t":"2012-01","ab":0.05,"az":0.00,"bo":0.05,"co":0.00,"da":0.05,"dj":0.05,"dg":0.00,"gl":0.08,"ke":0.05,"ma":0.10,"na":0.00,"ni":0.10,"pa":0.25,"po":0.15,"ta":0.10},
{"t":"2012-02","ab":0.00,"az":0.00,"bo":0.10,"co":0.00,"da":0.20,"dj":0.02,"dg":0.00,"gl":0.00,"ke":0.00,"ma":0.05,"na":0.05,"ni":0.05,"pa":0.10,"po":0.05,"ta":0.05},
{"t":"2012-03","ab":0.03,"az":0.00,"bo":0.00,"co":0.00,"da":0.08,"dj":0.00,"dg":0.00,"gl":0.10,"ke":0.08,"ma":0.20,"na":0.02,"ni":0.08,"pa":0.05,"po":0.10,"ta":0.08},
{"t":"2012-04","ab":0.10,"az":0.00,"bo":0.05,"co":0.00,"da":0.05,"dj":0.03,"dg":0.00,"gl":0.05,"ke":0.05,"ma":0.10,"na":0.10,"ni":0.00,"pa":0.20,"po":0.00,"ta":0.00},
{"t":"2012-05","ab":0.02,"az":0.00,"bo":0.08,"co":0.00,"da":0.10,"dj":0.05,"dg":0.00,"gl":-0.05,"ke":0.00,"ma":0.05,"na":0.00,"ni":0.05,"pa":-0.10,"po":-0.10,"ta":-0.05},
{"t":"2012-06","ab":0.00,"az":0.00,"bo":0.25,"co":0.00,"da":0.03,"dj":0.00,"dg":0.00,"gl":0.00,"ke":-0.10,"ma":-0.10,"na":-0.05,"ni":-0.10,"pa":-0.30,"po":-0.20,"ta":-0.20},
{"t":"2012-07","ab":0.05,"az":0.00,"bo":-0.35,"co":0.00,"da":-0.05,"dj":0.02,"dg":0.00,"gl":-0.10,"ke":-0.20,"ma":-0.20,"na":0.05,"ni":-0.35,"pa":0.15,"po":0.15,"ta":0.10},
{"t":"2012-08","ab":-0.05,"az":0.00,"bo":-0.05,"co":0.00,"da":0.08,"dj":0.05,"dg":0.00,"gl":0.05,"ke":0.05,"ma":0.05,"na":0.03,"ni":0.10,"pa":0.05,"po":0.05,"ta":0.05},
{"t":"2012-09","ab":0.08,"az":0.20,"bo":0.10,"co":0.20,"da":0.05,"dj":0.00,"dg":0.10,"gl":0.08,"ke":0.10,"ma":-0.49,"na":0.00,"ni":0.05,"pa":0.10,"po":0.10,"ta":0.08},
{"t":"2012-10","ab":0.02,"az":0.10,"bo":0.05,"co":0.05,"da":0.10,"dj":0.03,"dg":0.05,"gl":0.00,"ke":0.05,"ma":0.10,"na":0.05,"ni":0.08,"pa":0.20,"po":0.08,"ta":0.05},
{"t":"2012-11","ab":0.00,"az":0.00,"bo":0.08,"co":0.10,"da":0.03,"dj":0.02,"dg":0.15,"gl":0.05,"ke":0.08,"ma":0.05,"na":0.10,"ni":0.03,"pa":-0.10,"po":0.05,"ta":0.03},
{"t":"2012-12","ab":0.05,"az":0.00,"bo":0.03,"co":0.05,"da":0.05,"dj":0.05,"dg":0.10,"gl":0.03,"ke":0.05,"ma":0.08,"na":0.02,"ni":0.05,"pa":0.05,"po":0.10,"ta":0.05},
{"t":"2013-01","ab":0.03,"az":0.00,"bo":0.05,"co":-0.10,"da":0.05,"dj":0.00,"dg":0.05,"gl":0.05,"ke":0.05,"ma":0.05,"na":0.05,"ni":0.08,"pa":0.15,"po":0.10,"ta":0.05},
{"t":"2013-02","ab":0.08,"az":0.00,"bo":0.00,"co":0.10,"da":0.00,"dj":-0.05,"dg":0.25,"gl":0.30,"ke":0.15,"ma":0.00,"na":0.00,"ni":0.05,"pa":0.10,"po":0.05,"ta":0.10},
{"t":"2013-03","ab":0.00,"az":0.00,"bo":0.10,"co":0.20,"da":0.08,"dj":0.05,"dg":0.10,"gl":0.10,"ke":0.10,"ma":0.08,"na":0.03,"ni":0.00,"pa":0.05,"po":0.15,"ta":0.05},
{"t":"2013-04","ab":0.05,"az":0.00,"bo":0.05,"co":0.05,"da":0.05,"dj":0.02,"dg":0.05,"gl":0.05,"ke":0.05,"ma":0.05,"na":0.05,"ni":-0.05,"pa":0.00,"po":0.00,"ta":0.00},
{"t":"2013-05","ab":0.10,"az":0.00,"bo":-0.05,"co":0.02,"da":0.02,"dj":0.08,"dg":0.00,"gl":0.00,"ke":0.00,"ma":0.02,"na":-0.05,"ni":0.05,"pa":-0.15,"po":-0.10,"ta":-0.10},
{"t":"2013-06","ab":-0.05,"az":-0.30,"bo":-0.40,"co":-0.10,"da":-0.05,"dj":0.00,"dg":-0.20,"gl":-0.35,"ke":-0.15,"ma":-0.10,"na":-0.10,"ni":-0.30,"pa":-0.45,"po":-0.25,"ta":-0.25},
{"t":"2013-07","ab":-0.45,"az":-0.50,"bo":-0.10,"co":-0.50,"da":-0.20,"dj":-0.05,"dg":-0.50,"gl":-0.74,"ke":-0.40,"ma":-0.30,"na":-0.30,"ni":0.10,"pa":0.10,"po":-0.45,"ta":0.05},
{"t":"2013-08","ab":-0.15,"az":0.00,"bo":0.15,"co":0.02,"da":0.00,"dj":0.05,"dg":-0.10,"gl":-0.10,"ke":0.25,"ma":-0.05,"na":0.00,"ni":0.05,"pa":0.20,"po":0.10,"ta":0.08},
{"t":"2013-09","ab":0.05,"az":0.15,"bo":0.05,"co":0.02,"da":0.00,"dj":0.10,"dg":0.10,"gl":0.10,"ke":0.10,"ma":0.10,"na":0.05,"ni":0.08,"pa":0.05,"po":0.15,"ta":0.05},
{"t":"2013-10","ab":0.02,"az":0.05,"bo":0.02,"co":0.02,"da":0.00,"dj":0.03,"dg":0.05,"gl":0.05,"ke":0.05,"ma":0.05,"na":0.03,"ni":0.03,"pa":0.10,"po":0.05,"ta":0.03},
{"t":"2013-11","ab":0.03,"az":-0.05,"bo":0.05,"co":0.02,"da":0.00,"dj":-0.05,"dg":0.08,"gl":0.08,"ke":0.08,"ma":0.08,"na":0.00,"ni":0.05,"pa":-0.10,"po":0.08,"ta":0.05},
{"t":"2013-12","ab":0.00,"az":0.10,"bo":0.00,"co":0.02,"da":0.00,"dj":0.05,"dg":0.10,"gl":0.05,"ke":0.05,"ma":0.05,"na":0.02,"ni":0.02,"pa":0.05,"po":0.10,"ta":0.08},
{"t":"2014-01","ab":0.05,"az":0.05,"bo":0.05,"co":0.02,"da":0.00,"dj":0.02,"dg":0.05,"gl":0.03,"ke":0.05,"ma":0.10,"na":0.05,"ni":0.05,"pa":0.15,"po":0.05,"ta":0.10},
{"t":"2014-02","ab":0.13,"az":0.00,"bo":0.08,"co":0.02,"da":0.00,"dj":0.08,"dg":0.10,"gl":0.05,"ke":0.10,"ma":0.05,"na":0.00,"ni":0.08,"pa":0.05,"po":0.10,"ta":0.05},
{"t":"2014-03","ab":0.02,"az":-0.05,"bo":0.00,"co":0.02,"da":0.00,"dj":0.00,"dg":0.00,"gl":0.00,"ke":0.08,"ma":0.00,"na":-0.05,"ni":0.00,"pa":0.10,"po":0.08,"ta":0.08},
{"t":"2014-04","ab":0.05,"az":0.08,"bo":-0.05,"co":0.00,"da":0.00,"dj":0.05,"dg":0.05,"gl":0.05,"ke":0.05,"ma":-0.10,"na":0.05,"ni":0.05,"pa":0.00,"po":0.00,"ta":0.00},
{"t":"2014-05","ab":0.00,"az":0.00,"bo":0.05,"co":0.00,"da":0.02,"dj":0.10,"dg":0.08,"gl":0.02,"ke":0.00,"ma":0.05,"na":0.03,"ni":-0.05,"pa":-0.10,"po":-0.10,"ta":-0.05},
{"t":"2014-06","ab":-0.10,"az":-0.10,"bo":-0.15,"co":-0.20,"da":-0.05,"dj":0.03,"dg":-0.15,"gl":-0.05,"ke":-0.10,"ma":-0.15,"na":0.00,"ni":-0.10,"pa":-0.25,"po":-0.20,"ta":-0.15},
{"t":"2014-07","ab":-0.36,"az":-0.15,"bo":0.00,"co":-0.55,"da":-0.25,"dj":-0.05,"dg":-0.50,"gl":-0.15,"ke":-0.30,"ma":0.10,"na":-0.20,"ni":-0.20,"pa":0.10,"po":0.05,"ta":0.05},
{"t":"2014-08","ab":-0.05,"az":0.05,"bo":0.05,"co":0.05,"da":0.05,"dj":-0.35,"dg":-0.10,"gl":0.05,"ke":0.05,"ma":0.15,"na":0.00,"ni":0.05,"pa":0.05,"po":0.10,"ta":0.10},
{"t":"2014-09","ab":0.10,"az":0.10,"bo":0.10,"co":0.20,"da":0.10,"dj":-0.10,"dg":0.20,"gl":0.02,"ke":0.15,"ma":0.05,"na":0.00,"ni":0.10,"pa":0.15,"po":0.05,"ta":0.05},
{"t":"2014-10","ab":0.20,"az":0.35,"bo":0.20,"co":0.10,"da":0.05,"dj":0.05,"dg":0.15,"gl":0.05,"ke":0.10,"ma":0.08,"na":0.00,"ni":0.37,"pa":0.10,"po":0.08,"ta":0.08},
{"t":"2014-11","ab":0.27,"az":0.15,"bo":0.05,"co":0.05,"da":0.15,"dj":0.02,"dg":0.05,"gl":0.03,"ke":0.05,"ma":0.10,"na":0.00,"ni":0.10,"pa":0.05,"po":0.15,"ta":0.05},
{"t":"2014-12","ab":0.15,"az":0.20,"bo":0.00,"co":0.10,"da":0.08,"dj":0.10,"dg":0.10,"gl":0.10,"ke":0.08,"ma":0.15,"na":0.00,"ni":-0.10,"pa":0.08,"po":0.10,"ta":0.03},
{"t":"2015-01","ab":0.10,"az":0.10,"bo":0.05,"co":0.15,"da":0.10,"dj":0.08,"dg":0.15,"gl":0.05,"ke":0.10,"ma":0.20,"na":0.05,"ni":0.05,"pa":0.10,"po":0.10,"ta":0.05},
{"t":"2015-02","ab":0.05,"az":0.15,"bo":0.10,"co":0.05,"da":0.05,"dj":0.05,"dg":0.05,"gl":0.10,"ke":0.05,"ma":-0.10,"na":0.10,"ni":0.15,"pa":0.20,"po":0.05,"ta":0.10},
{"t":"2015-03","ab":0.10,"az":0.20,"bo":0.30,"co":0.10,"da":0.25,"dj":0.10,"dg":0.10,"gl":0.15,"ke":0.48,"ma":0.10,"na":0.15,"ni":0.10,"pa":0.05,"po":0.15,"ta":0.05},
{"t":"2015-04","ab":0.20,"az":0.41,"bo":0.15,"co":0.20,"da":0.20,"dj":0.15,"dg":0.20,"gl":0.10,"ke":0.25,"ma":0.05,"na":0.20,"ni":0.05,"pa":0.00,"po":0.10,"ta":0.00},
{"t":"2015-05","ab":0.25,"az":0.20,"bo":0.10,"co":0.10,"da":0.15,"dj":0.12,"dg":0.10,"gl":0.05,"ke":0.10,"ma":0.15,"na":0.30,"ni":0.08,"pa":-0.15,"po":0.20,"ta":-0.05},
{"t":"2015-06","ab":0.15,"az":0.10,"bo":0.05,"co":0.15,"da":0.05,"dj":0.05,"dg":0.05,"gl":0.12,"ke":-0.15,"ma":-0.15,"na":0.15,"ni":0.00,"pa":-0.10,"po":0.05,"ta":-0.15},
{"t":"2015-07","ab":0.10,"az":-0.15,"bo":0.00,"co":0.30,"da":-0.10,"dj":0.08,"dg":0.15,"gl":0.05,"ke":0.05,"ma":0.20,"na":0.10,"ni":-0.05,"pa":0.05,"po":0.15,"ta":0.10},
{"t":"2015-08","ab":0.05,"az":0.00,"bo":-0.05,"co":0.20,"da":0.10,"dj":0.00,"dg":0.10,"gl":0.15,"ke":0.20,"ma":0.15,"na":0.05,"ni":0.10,"pa":0.10,"po":0.10,"ta":0.05},
{"t":"2015-09","ab":0.12,"az":0.05,"bo":-0.20,"co":0.15,"da":0.05,"dj":-0.10,"dg":0.05,"gl":0.05,"ke":-0.20,"ma":0.05,"na":0.00,"ni":0.15,"pa":0.15,"po":0.05,"ta":0.00},
{"t":"2015-10","ab":0.05,"az":0.00,"bo":0.05,"co":0.05,"da":0.00,"dj":-0.20,"dg":0.20,"gl":0.00,"ke":0.10,"ma":0.10,"na":-0.05,"ni":0.05,"pa":0.05,"po":0.00,"ta":-0.05},
{"t":"2015-11","ab":-0.05,"az":0.03,"bo":0.13,"co":-0.45,"da":-0.05,"dj":-0.05,"dg":-0.10,"gl":-0.10,"ke":0.05,"ma":-0.10,"na":-0.30,"ni":-0.05,"pa":-0.10,"po":-0.05,"ta":-0.20},
{"t":"2015-12","ab":-0.20,"az":0.03,"bo":0.13,"co":-0.20,"da":-0.05,"dj":-0.10,"dg":-0.30,"gl":-0.10,"ke":0.05,"ma":-0.20,"na":-0.30,"ni":-0.10,"pa":-0.20,"po":-0.05,"ta":-0.30}
]},
"columns":3,
"bounds":"flush",
"spacing":{"row":80,"column":80},
"concat":[
{"width":334,"height":97,"mark":"line","encoding":{"x":{"field":"t","type":"temporal","title":"mois","scale":{"type":"utc","domain":[{"year":1994,"month":4,"date":1,"utc":true},{"year":2016,"month":8,"date":1,"utc":true}]},"axis":{"values":[{"year":1995,"month":1,"date":1,"utc":true},{"year":2000,"month":1,"date":1,"utc":true},{"year":2005,"month":1,"date":1,"utc":true},{"year":2010,"month":1,"date":1,"utc":true},{"year":2015,"month":1,"date":1,"utc":true}],"labelExpr":"utcFormat(datum.value,'%Y')+'m1'"}},"y":{"field":"ab","type":"quantitative","title":"Abomey","scale":{"domain":[-0.57,0.52],"nice":false,"zero":false},"axis":{"values":[-0.4,-0.2,0,0.2,0.4],"labelExpr":"replace(replace(format(datum.value,'.1~f'),'\u2212','-'),'0.','.')"}}}},
{"width":334,"height":97,"mark":"line","encoding":{"x":{"field":"t","type":"temporal","title":"mois","scale":{"type":"utc","domain":[{"year":1994,"month":4,"date":1,"utc":true},{"year":2016,"month":8,"date":1,"utc":true}]},"axis":{"values":[{"year":1995,"month":1,"date":1,"utc":true},{"year":2000,"month":1,"date":1,"utc":true},{"year":2005,"month":1,"date":1,"utc":true},{"year":2010,"month":1,"date":1,"utc":true},{"year":2015,"month":1,"date":1,"utc":true}],"labelExpr":"utcFormat(datum.value,'%Y')+'m1'"}},"y":{"field":"az","type":"quantitative","title":"Azové","scale":{"domain":[-0.70,0.53],"nice":false,"zero":false},"axis":{"values":[-0.6,-0.4,-0.2,0,0.2,0.4],"labelExpr":"replace(replace(format(datum.value,'.1~f'),'\u2212','-'),'0.','.')"}}}},
{"width":334,"height":97,"mark":"line","encoding":{"x":{"field":"t","type":"temporal","title":"mois","scale":{"type":"utc","domain":[{"year":1994,"month":4,"date":1,"utc":true},{"year":2016,"month":8,"date":1,"utc":true}]},"axis":{"values":[{"year":1995,"month":1,"date":1,"utc":true},{"year":2000,"month":1,"date":1,"utc":true},{"year":2005,"month":1,"date":1,"utc":true},{"year":2010,"month":1,"date":1,"utc":true},{"year":2015,"month":1,"date":1,"utc":true}],"labelExpr":"utcFormat(datum.value,'%Y')+'m1'"}},"y":{"field":"bo","type":"quantitative","title":"Bohicon","scale":{"domain":[-0.71,0.53],"nice":false,"zero":false},"axis":{"values":[-0.6,-0.4,-0.2,0,0.2,0.4],"labelExpr":"replace(replace(format(datum.value,'.1~f'),'\u2212','-'),'0.','.')"}}}},
{"width":334,"height":97,"mark":"line","encoding":{"x":{"field":"t","type":"temporal","title":"mois","scale":{"type":"utc","domain":[{"year":1994,"month":4,"date":1,"utc":true},{"year":2016,"month":8,"date":1,"utc":true}]},"axis":{"values":[{"year":1995,"month":1,"date":1,"utc":true},{"year":2000,"month":1,"date":1,"utc":true},{"year":2005,"month":1,"date":1,"utc":true},{"year":2010,"month":1,"date":1,"utc":true},{"year":2015,"month":1,"date":1,"utc":true}],"labelExpr":"utcFormat(datum.value,'%Y')+'m1'"}},"y":{"field":"co","type":"quantitative","title":"Comé","scale":{"domain":[-0.74,0.54],"nice":false,"zero":false},"axis":{"values":[-0.6,-0.4,-0.2,0,0.2,0.4],"labelExpr":"replace(replace(format(datum.value,'.1~f'),'\u2212','-'),'0.','.')"}}}},
{"width":334,"height":97,"mark":"line","encoding":{"x":{"field":"t","type":"temporal","title":"mois","scale":{"type":"utc","domain":[{"year":1994,"month":4,"date":1,"utc":true},{"year":2016,"month":8,"date":1,"utc":true}]},"axis":{"values":[{"year":1995,"month":1,"date":1,"utc":true},{"year":2000,"month":1,"date":1,"utc":true},{"year":2005,"month":1,"date":1,"utc":true},{"year":2010,"month":1,"date":1,"utc":true},{"year":2015,"month":1,"date":1,"utc":true}],"labelExpr":"utcFormat(datum.value,'%Y')+'m1'"}},"y":{"field":"da","type":"quantitative","title":"Dantokpa","scale":{"domain":[-0.74,0.54],"nice":false,"zero":false},"axis":{"values":[-0.6,-0.4,-0.2,0,0.2,0.4],"labelExpr":"replace(replace(format(datum.value,'.1~f'),'\u2212','-'),'0.','.')"}}}},
{"width":334,"height":97,"mark":"line","encoding":{"x":{"field":"t","type":"temporal","title":"mois","scale":{"type":"utc","domain":[{"year":1994,"month":4,"date":1,"utc":true},{"year":2016,"month":8,"date":1,"utc":true}]},"axis":{"values":[{"year":1995,"month":1,"date":1,"utc":true},{"year":2000,"month":1,"date":1,"utc":true},{"year":2005,"month":1,"date":1,"utc":true},{"year":2010,"month":1,"date":1,"utc":true},{"year":2015,"month":1,"date":1,"utc":true}],"labelExpr":"utcFormat(datum.value,'%Y')+'m1'"}},"y":{"field":"dj","type":"quantitative","title":"Djougou","scale":{"domain":[-1.21,0.73],"nice":false,"zero":false},"axis":{"values":[-1,-0.5,0,0.5],"labelExpr":"replace(replace(format(datum.value,'.1~f'),'\u2212','-'),'0.','.')"}}}},
{"width":334,"height":97,"mark":"line","encoding":{"x":{"field":"t","type":"temporal","title":"mois","scale":{"type":"utc","domain":[{"year":1994,"month":4,"date":1,"utc":true},{"year":2016,"month":8,"date":1,"utc":true}]},"axis":{"values":[{"year":1995,"month":1,"date":1,"utc":true},{"year":2000,"month":1,"date":1,"utc":true},{"year":2005,"month":1,"date":1,"utc":true},{"year":2010,"month":1,"date":1,"utc":true},{"year":2015,"month":1,"date":1,"utc":true}],"labelExpr":"utcFormat(datum.value,'%Y')+'m1'"}},"y":{"field":"dg","type":"quantitative","title":"Dogbo","scale":{"domain":[-1.2,0.72],"nice":false,"zero":false},"axis":{"values":[-1,-0.5,0,0.5],"labelExpr":"replace(replace(format(datum.value,'.1~f'),'\u2212','-'),'0.','.')"}}}},
{"width":334,"height":97,"mark":"line","encoding":{"x":{"field":"t","type":"temporal","title":"mois","scale":{"type":"utc","domain":[{"year":1994,"month":4,"date":1,"utc":true},{"year":2016,"month":8,"date":1,"utc":true}]},"axis":{"values":[{"year":1995,"month":1,"date":1,"utc":true},{"year":2000,"month":1,"date":1,"utc":true},{"year":2005,"month":1,"date":1,"utc":true},{"year":2010,"month":1,"date":1,"utc":true},{"year":2015,"month":1,"date":1,"utc":true}],"labelExpr":"utcFormat(datum.value,'%Y')+'m1'"}},"y":{"field":"gl","type":"quantitative","title":"Glazoué","scale":{"domain":[-1.2,0.72],"nice":false,"zero":false},"axis":{"values":[-1,-0.5,0,0.5],"labelExpr":"replace(replace(format(datum.value,'.1~f'),'\u2212','-'),'0.','.')"}}}},
{"width":334,"height":97,"mark":"line","encoding":{"x":{"field":"t","type":"temporal","title":"mois","scale":{"type":"utc","domain":[{"year":1994,"month":4,"date":1,"utc":true},{"year":2016,"month":8,"date":1,"utc":true}]},"axis":{"values":[{"year":1995,"month":1,"date":1,"utc":true},{"year":2000,"month":1,"date":1,"utc":true},{"year":2005,"month":1,"date":1,"utc":true},{"year":2010,"month":1,"date":1,"utc":true},{"year":2015,"month":1,"date":1,"utc":true}],"labelExpr":"utcFormat(datum.value,'%Y')+'m1'"}},"y":{"field":"ke","type":"quantitative","title":"Kétou","scale":{"domain":[-1.2,0.72],"nice":false,"zero":false},"axis":{"values":[-1,-0.5,0,0.5],"labelExpr":"replace(replace(format(datum.value,'.1~f'),'\u2212','-'),'0.','.')"}}}},
{"width":334,"height":97,"mark":"line","encoding":{"x":{"field":"t","type":"temporal","title":"mois","scale":{"type":"utc","domain":[{"year":1994,"month":4,"date":1,"utc":true},{"year":2016,"month":8,"date":1,"utc":true}]},"axis":{"values":[{"year":1995,"month":1,"date":1,"utc":true},{"year":2000,"month":1,"date":1,"utc":true},{"year":2005,"month":1,"date":1,"utc":true},{"year":2010,"month":1,"date":1,"utc":true},{"year":2015,"month":1,"date":1,"utc":true}],"labelExpr":"utcFormat(datum.value,'%Y')+'m1'"}},"y":{"field":"ma","type":"quantitative","title":"Malanville","scale":{"domain":[-0.72,0.75],"nice":false,"zero":false},"axis":{"values":[-0.5,0,0.5],"labelExpr":"replace(replace(format(datum.value,'.1~f'),'\u2212','-'),'0.','.')"}}}},
{"width":334,"height":97,"mark":"line","encoding":{"x":{"field":"t","type":"temporal","title":"mois","scale":{"type":"utc","domain":[{"year":1994,"month":4,"date":1,"utc":true},{"year":2016,"month":8,"date":1,"utc":true}]},"axis":{"values":[{"year":1995,"month":1,"date":1,"utc":true},{"year":2000,"month":1,"date":1,"utc":true},{"year":2005,"month":1,"date":1,"utc":true},{"year":2010,"month":1,"date":1,"utc":true},{"year":2015,"month":1,"date":1,"utc":true}],"labelExpr":"utcFormat(datum.value,'%Y')+'m1'"}},"y":{"field":"na","type":"quantitative","title":"Natitingou","scale":{"domain":[-0.70,1.22],"nice":false,"zero":false},"axis":{"values":[-0.5,0,0.5,1],"labelExpr":"replace(replace(format(datum.value,'.1~f'),'\u2212','-'),'0.','.')"}}}},
{"width":334,"height":97,"mark":"line","encoding":{"x":{"field":"t","type":"temporal","title":"mois","scale":{"type":"utc","domain":[{"year":1994,"month":4,"date":1,"utc":true},{"year":2016,"month":8,"date":1,"utc":true}]},"axis":{"values":[{"year":1995,"month":1,"date":1,"utc":true},{"year":2000,"month":1,"date":1,"utc":true},{"year":2005,"month":1,"date":1,"utc":true},{"year":2010,"month":1,"date":1,"utc":true},{"year":2015,"month":1,"date":1,"utc":true}],"labelExpr":"utcFormat(datum.value,'%Y')+'m1'"}},"y":{"field":"ni","type":"quantitative","title":"Nikki","scale":{"domain":[-1.27,1.27],"nice":false,"zero":false},"axis":{"values":[-1,-0.5,0,0.5,1],"labelExpr":"replace(replace(format(datum.value,'.1~f'),'\u2212','-'),'0.','.')"}}}},
{"width":334,"height":97,"mark":"line","encoding":{"x":{"field":"t","type":"temporal","title":"mois","scale":{"type":"utc","domain":[{"year":1994,"month":4,"date":1,"utc":true},{"year":2016,"month":8,"date":1,"utc":true}]},"axis":{"values":[{"year":1995,"month":1,"date":1,"utc":true},{"year":2000,"month":1,"date":1,"utc":true},{"year":2005,"month":1,"date":1,"utc":true},{"year":2010,"month":1,"date":1,"utc":true},{"year":2015,"month":1,"date":1,"utc":true}],"labelExpr":"utcFormat(datum.value,'%Y')+'m1'"}},"y":{"field":"pa","type":"quantitative","title":"Parakou","scale":{"domain":[-0.66,0.73],"nice":false,"zero":false},"axis":{"values":[-0.5,0,0.5],"labelExpr":"replace(replace(format(datum.value,'.1~f'),'\u2212','-'),'0.','.')"}}}},
{"width":334,"height":97,"mark":"line","encoding":{"x":{"field":"t","type":"temporal","title":"mois","scale":{"type":"utc","domain":[{"year":1994,"month":4,"date":1,"utc":true},{"year":2016,"month":8,"date":1,"utc":true}]},"axis":{"values":[{"year":1995,"month":1,"date":1,"utc":true},{"year":2000,"month":1,"date":1,"utc":true},{"year":2005,"month":1,"date":1,"utc":true},{"year":2010,"month":1,"date":1,"utc":true},{"year":2015,"month":1,"date":1,"utc":true}],"labelExpr":"utcFormat(datum.value,'%Y')+'m1'"}},"y":{"field":"po","type":"quantitative","title":"Pobè","scale":{"domain":[-0.66,0.74],"nice":false,"zero":false},"axis":{"values":[-0.4,-0.2,0,0.2,0.4,0.6],"labelExpr":"replace(replace(format(datum.value,'.1~f'),'\u2212','-'),'0.','.')"}}}},
{"width":334,"height":97,"mark":"line","encoding":{"x":{"field":"t","type":"temporal","title":"mois","scale":{"type":"utc","domain":[{"year":1994,"month":4,"date":1,"utc":true},{"year":2016,"month":8,"date":1,"utc":true}]},"axis":{"values":[{"year":1995,"month":1,"date":1,"utc":true},{"year":2000,"month":1,"date":1,"utc":true},{"year":2005,"month":1,"date":1,"utc":true},{"year":2010,"month":1,"date":1,"utc":true},{"year":2015,"month":1,"date":1,"utc":true}],"labelExpr":"utcFormat(datum.value,'%Y')+'m1'"}},"y":{"field":"ta","type":"quantitative","title":"Tanguiéta","scale":{"domain":[-1.3,1.3],"nice":false,"zero":false},"axis":{"values":[-1,-0.5,0,0.5,1],"labelExpr":"replace(replace(format(datum.value,'.1~f'),'\u2212','-'),'0.','.')"}}}}
],
"config":{
"font":"Liberation Sans",
"view":{"stroke":null,"fill":"#ffffff"},
"line":{"color":"#1a476f","strokeWidth":1.3},
"axis":{"domainColor":"#222222","tickColor":"#222222","labelColor":"#222222","titleColor":"#222222","titleFontWeight":"normal","tickSize":5,"labelFont":"Liberation Sans","titleFont":"Liberation Sans"},
"axisX":{"grid":false,"labelFontSize":13.5,"labelPadding":2,"titleFontSize":12,"titlePadding":0,"labelOverlap":false,"labelFlush":false},
"axisY":{"grid":true,"gridColor":"#E3EAED","labelAngle":-90,"labelAlign":"center","labelBaseline":"bottom","labelFontSize":15,"labelPadding":3,"labelOverlap":false,"labelFlush":false,"titleFontSize":16,"titlePadding":6}
}
}
